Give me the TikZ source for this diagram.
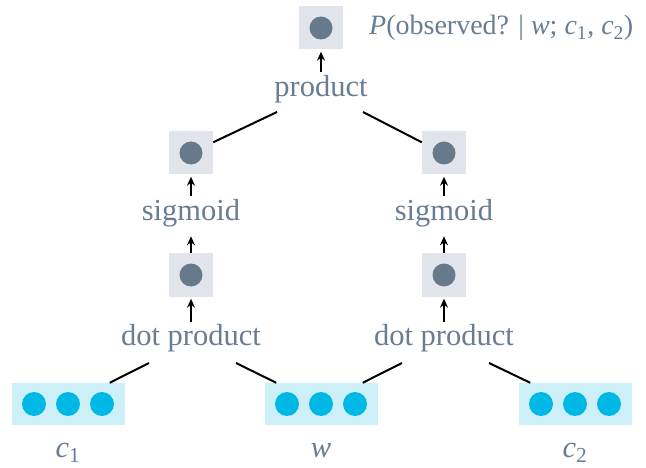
\documentclass[tikz,border=0pt]{standalone}
\usepackage{fontspec}
\setmainfont{Liberation Serif}
\usetikzlibrary{arrows.meta,calc}
\definecolor{slate}{HTML}{687D93}
\definecolor{dotgray}{HTML}{667A8C}
\definecolor{boxgray}{HTML}{E1E4EA}
\definecolor{cyanbox}{HTML}{CCEFF8}
\definecolor{cyandot}{HTML}{00B8E6}
\newcommand{\sbs}[1]{\textsubscript{#1}}
\tikzset{
  lab/.style={text=slate, font=\fontsize{30.5}{34}\selectfont, inner sep=0pt},
  gbox/.style={fill=boxgray, minimum width=44pt, minimum height=43pt, inner sep=0pt},
  vbox/.style={fill=cyanbox, minimum width=113pt, minimum height=42pt, inner sep=0pt},
  gdot/.style={circle, fill=dotgray, minimum size=23pt, inner sep=0pt},
  cdot/.style={circle, fill=cyandot, minimum size=24pt, inner sep=0pt},
  up/.style={-{Stealth[length=9pt,width=8pt]}, line width=2pt},
  conn/.style={line width=2pt}
}
\begin{document}
\begin{tikzpicture}[x=1pt,y=-1pt]
\useasboundingbox (0,0) rectangle (646,468);
% top
\node[gbox] (top) at (321,28) {};
\node[gdot] at (top) {};
\node[lab, anchor=west, font=\fontsize{28}{32}\selectfont] (plab) at (369,28) {\textit{P}(observed? | \textit{w}; \textit{c}\sbs{1}, \textit{c}\sbs{2})};
\node[lab] (prod) at (321,89) {product};
% sigmoid level
\foreach \n/\x in {L/191,R/444}{
  \node[gbox] (sig\n) at (\x,153) {};
  \node[gdot] at (sig\n) {};
  \node[lab] (sigl\n) at (\x,213) {sigmoid};
  \node[gbox] (dp\n) at (\x,275) {};
  \node[gdot] at (dp\n) {};
  \node[lab] (dpl\n) at (\x,338) {dot product};
}
% vectors
\foreach \n/\x in {c1/68,w/321,c2/575}{
  \node[vbox] (v\n) at (\x,404) {};
  \node[cdot] at ($(v\n)+(-34,0)$) {};
  \node[cdot] at (v\n) {};
  \node[cdot] at ($(v\n)+(34,0)$) {};
}
\node[lab, anchor=base] (lc1) at (68,457) {\textit{c}\sbs{1}};
\node[lab, anchor=base] (lw) at (321,457) {\textit{w}};
\node[lab, anchor=base] (lc2) at (575,457) {\textit{c}\sbs{2}};
% arrows
\draw[up] ([yshift=-22pt]top.south) -- ([yshift=-2pt]top.south);
\foreach \n in {L,R}{
  \draw[up] ([yshift=-21pt]sig\n.south) -- ([yshift=-2pt]sig\n.south);
  \draw[up] (dp\n.north) -- ([yshift=17pt]dp\n.north);
  \draw[up] ([yshift=-25pt]dp\n.south) -- ([yshift=-2pt]dp\n.south);
}
% connectors
\draw[conn] ($(prod)+(-44,23)$) -- ([yshift=-11pt]sigL.north east);
\draw[conn] ($(prod)+(42,23)$) -- ([yshift=-11pt]sigR.north west);
\draw[conn] ($(dplL)+(-42,25)$) -- ([xshift=-15pt]vc1.north east);
\draw[conn] ($(dplL)+(45,25)$) -- ([xshift=12pt]vw.north west);
\draw[conn] ($(dplR)+(-42,25)$) -- ([xshift=-15pt]vw.north east);
\draw[conn] ($(dplR)+(45,25)$) -- ([xshift=12pt]vc2.north west);
\end{tikzpicture}
\end{document}
